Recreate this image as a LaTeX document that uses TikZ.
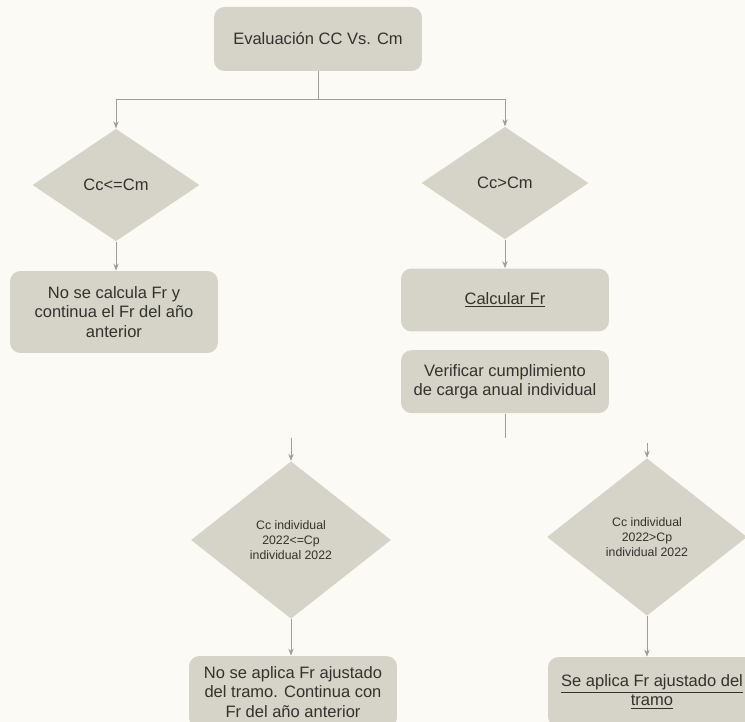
\documentclass[tikz,border=0pt]{standalone}
\usepackage{fontspec}
\setmainfont{Liberation Sans}
\usetikzlibrary{shapes.geometric,arrows.meta,positioning}

\definecolor{boxfill}{RGB}{214,212,200}
\definecolor{paper}{RGB}{251,250,245}
\definecolor{linegray}{RGB}{160,158,150}
\definecolor{inkgray}{RGB}{50,50,46}

\begin{document}
\begin{tikzpicture}[
  x=0.02cm, y=-0.02cm,
  font=\fontsize{9.4}{11.2}\selectfont,
  >={Stealth[length=4pt,width=3pt]},
  proc/.style={rectangle, rounded corners=6pt, fill=boxfill, text=inkgray,
               minimum width=4.16cm, align=center},
  cond/.style={diamond, fill=boxfill, text=inkgray, inner sep=0pt, align=center,
               minimum width=3.34cm, minimum height=2.25cm},
  subcond/.style={cond, minimum width=4cm, minimum height=3.15cm,
                  font=\fontsize{7}{8.5}\selectfont},
  link/.style={draw=linegray, line width=0.5pt},
  flow/.style={link, ->},
]

\useasboundingbox (0,0) rectangle (745,722);
\clip (0,0) rectangle (745,722);
\fill[paper] (0,0) rectangle (745,722);

\node[proc, minimum height=1.28cm] (eval) at (318,39) {Evaluación CC Vs. Cm};
\node[cond] (le) at (116,185) {Cc<=Cm};
\node[cond] (gt) at (505,183) {Cc>Cm};

\node[proc, minimum height=1.64cm] (nocalc) at (114,312) {No se calcula Fr y\\continua el Fr del año\\anterior};
\node[proc, minimum height=1.26cm] (calc) at (505,300) {\underline{Calcular Fr}};
\node[proc, minimum height=1.26cm, below=0.36cm of calc] (verif) {Verificar cumplimiento\\de carga anual individual};

\node[subcond] (indle) at (291,540) {Cc individual\\2022<=Cp\\individual 2022};
\node[subcond] (indgt) at (647,537) {Cc individual\\2022>Cp\\individual 2022};

\node[proc, minimum height=1.44cm] (noadj) at (293,692) {No se aplica Fr ajustado\\del tramo. Continua con\\Fr del año anterior};
\node[proc, minimum height=1.4cm] (adj) at (652,692) {\underline{Se aplica Fr ajustado del}\\\underline{tramo}};

% first split
\coordinate (hub) at (318,99);
\draw[link] (eval) -- (hub);
\draw[flow] (hub) -| (le.north);
\draw[flow] (hub) -| (gt.north);
\draw[flow] (le.south) -- (le.south |- nocalc.north);
\draw[flow] (gt) -- (calc);

% second split
\coordinate[below=0.48cm of verif] (stub);
\coordinate[above=0.46cm of indle.north] (inle);
\coordinate[above=0.3cm of indgt.north] (ingt);
\draw[link] (verif) -- (stub);
\draw[flow] (inle) -- (indle);
\draw[flow] (ingt) -- (indgt);
\draw[flow] (indle.south) -- (indle.south |- noadj.north);
\draw[flow] (indgt.south) -- (indgt.south |- adj.north);

\end{tikzpicture}
\end{document}
